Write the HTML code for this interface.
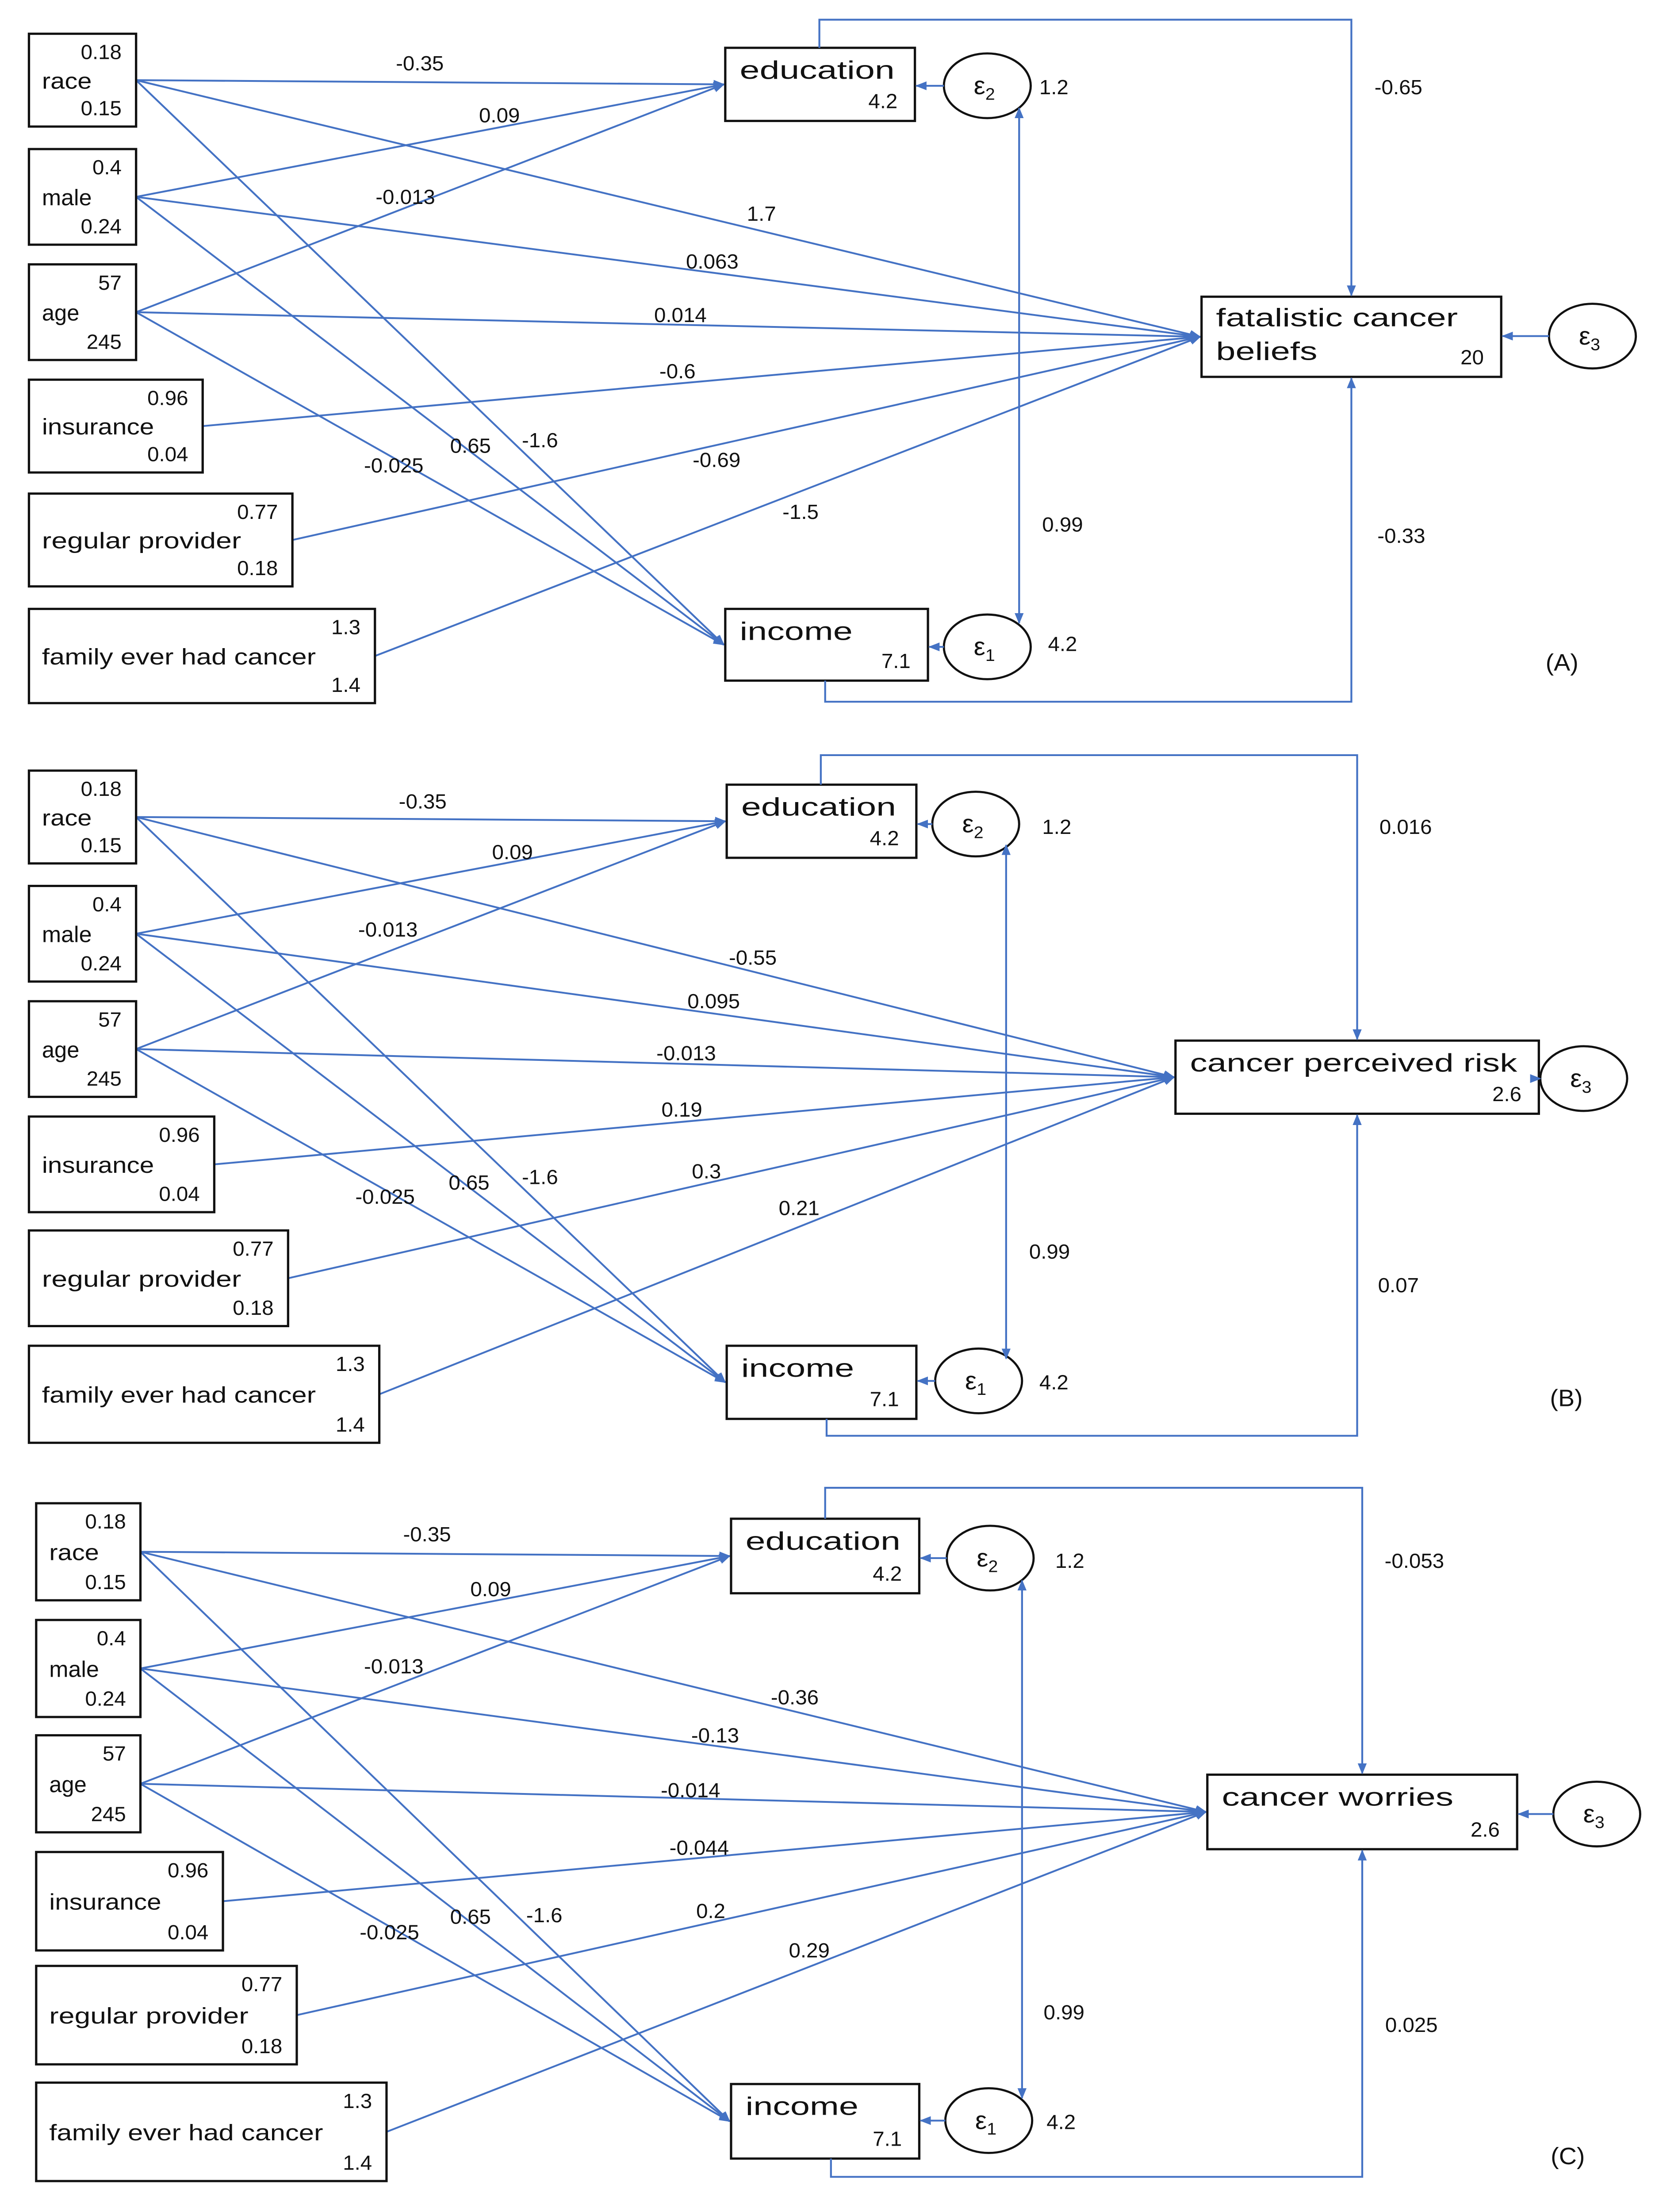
<!DOCTYPE html>
<html><head><meta charset="utf-8"><style>
html,body{margin:0;padding:0;background:#fff;width:100%;height:100%;overflow:hidden;}
svg{display:block;position:fixed;left:0;top:0;width:100vw;height:100vh;}
text{font-family:"Liberation Sans",sans-serif;fill:#111;}
</style></head><body>
<svg id="s" xmlns="http://www.w3.org/2000/svg" viewBox="0 0 1146 1573" preserveAspectRatio="none">
<defs><marker id="ar" viewBox="0 0 10 10" refX="9" refY="5" markerWidth="6" markerHeight="6" orient="auto-start-reverse"><path d="M0,1 L10,5 L0,9 z" fill="#4472C4"/></marker></defs>
<rect width="1146" height="1573" fill="#fff"/>
</svg>
<script>
const S=document.getElementById('s');const NS='http://www.w3.org/2000/svg';
function el(t,a,txt){const e=document.createElementNS(NS,t);for(const k in a)e.setAttribute(k,a[k]);if(txt!==undefined)e.textContent=txt;S.appendChild(e);return e;}
function line(x1,y1,x2,y2,arr,both){const a={x1,y1,x2,y2,stroke:'#4472C4','stroke-width':1.3};if(arr)a['marker-end']='url(#ar)';if(both)a['marker-start']='url(#ar)';el('line',a);}
function poly(pts){el('polyline',{points:pts,fill:'none',stroke:'#4472C4','stroke-width':1.3,'marker-end':'url(#ar)'});}
function t(x,y,s,size,anchor,len){const a={x,y,'font-size':size||14.5,'text-anchor':anchor||'middle'};if(len){a.textLength=len;a.lengthAdjust='spacingAndGlyphs';}el('text',a,s);}
function box(x1,y1,x2,y2){el('rect',{x:x1,y:y1,width:x2-x1,height:y2-y1,fill:'none',stroke:'#111','stroke-width':1.6});}
function circ(cx,cy,n){el('ellipse',{cx,cy,rx:30,ry:23,fill:'#fff',stroke:'#111','stroke-width':1.5});
 const tx=el('text',{x:cx-2,y:cy+6,'font-size':18,'text-anchor':'middle'},'ε');const ts=document.createElementNS(NS,'tspan');ts.setAttribute('font-size','12');ts.setAttribute('dy','4');ts.textContent=n;tx.appendChild(ts);}
function left(b,name,top,bot){box(b[0],b[1],b[2],b[3]);const h=b[3]-b[1];
 t(b[2]-10,b[1]+18,top,14.5,'end');t(b[0]+9,b[1]+h/2+6,name,16,'start',name.length*8.6);t(b[2]-10,b[3]-8,bot,14.5,'end');}
function panel(P){
 const L=P.left;const names=[['race','0.18','0.15'],['male','0.4','0.24'],['age','57','245'],['insurance','0.96','0.04'],['regular provider','0.77','0.18'],['family ever had cancer','1.3','1.4']];
 const src=L.map(b=>[b[2],(b[1]+b[3])/2]);
 const E=P.edu,I=P.inc,F=P.fat;
 const ep=[E[0],(E[1]+E[3])/2],ip=[I[0],(I[1]+I[3])/2],fp=[F[0],(F[1]+F[3])/2];
 for(let i=0;i<3;i++){line(src[i][0],src[i][1],ep[0]-1,ep[1],1);line(src[i][0],src[i][1],ip[0]-1,ip[1],1);}
 for(let i=0;i<6;i++)line(src[i][0],src[i][1],fp[0]-1,fp[1],1);
 L.forEach((b,i)=>left(b,names[i][0],names[i][1],names[i][2]));
 box(...E);box(...I);box(...F);
 t(E[0]+10,E[1]+22,'education',18,'start',107);t(E[2]-12,E[3]-9,'4.2',14.5,'end');
 t(I[0]+10,I[1]+22,'income',18,'start',78);t(I[2]-12,I[3]-9,'7.1',14.5,'end');
 if(P.fname2){t(F[0]+10,F[1]+21,P.fname,18,'start',P.flen);t(F[0]+10,F[1]+45,P.fname2,18,'start',70);}
 else t(F[0]+10,F[1]+22,P.fname,18,'start',P.flen);
 t(F[2]-12,F[3]-9,P.fv,14.5,'end');
 const fx=(F[0]+F[2])/2;
 poly(`${E[0]+65},${E[1]} ${E[0]+65},${P.top} ${fx},${P.top} ${fx},${F[1]-1}`);
 poly(`${I[0]+69},${I[3]} ${I[0]+69},${P.bot} ${fx},${P.bot} ${fx},${F[3]+1}`);
 circ(P.e2[0],P.e2[1],'2');circ(P.e1[0],P.e1[1],'1');circ(P.e3[0],P.e3[1],'3');
 line(P.e2[0]-30,P.e2[1],E[2]+1,P.e2[1],1);line(P.e1[0]-30,P.e1[1],I[2]+1,P.e1[1],1);line(P.e3[0]-30,P.e3[1],F[2]+1,P.e3[1],1);
 line(P.bx,P.by1,P.bx,P.by2,1,1);
 P.labels.forEach(l=>t(l[1],l[2]+5,l[0],14.5));
 t(P.tag[1],P.tag[2]+6,P.tag[0],17);
}
panel({left:[[20,24,94,90],[20,106,94,174],[20,188,94,256],[20,270,140,336],[20,351,202,417],[20,433,259,500]],
 edu:[501,34,632,86],inc:[501,433,641,484],fat:[830,211,1037,268],fname:'fatalistic cancer',fname2:'beliefs',flen:167,fv:'20',
 top:14,bot:499,e2:[682,61],e1:[682,460],e3:[1100,239],bx:704,by1:77,by2:443,
 labels:[['-0.35',290,45],['0.09',345,82],['-0.013',280,140],['1.7',526,152],['0.063',492,186],['0.014',470,224],['-0.6',468,264],['-0.025',272,331],['0.65',325,317],['-1.6',373,313],['-0.69',495,327],['-1.5',553,364],['0.99',734,373],['1.2',728,62],['4.2',734,458],['-0.65',966,62],['-0.33',968,381]],tag:['(A)',1079,471]});
panel({left:[[20,548,94,614],[20,630,94,698],[20,712,94,780],[20,794,148,862],[20,875,199,943],[20,957,262,1026]],
 edu:[502,558,633,610],inc:[502,957,633,1009],fat:[812,740,1063,792],fname:'cancer perceived risk',flen:226,fv:'2.6',
 top:537,bot:1021,e2:[674,586],e1:[676,982],e3:[1094,767],bx:695,by1:601,by2:966,
 labels:[['-0.35',292,570],['0.09',354,606],['-0.013',268,661],['-0.55',520,681],['0.095',493,712],['-0.013',474,749],['0.19',471,789],['0.3',488,833],['0.21',552,859],['-0.025',266,851],['0.65',324,841],['-1.6',373,837],['0.99',725,890],['1.2',730,588],['4.2',728,983],['0.016',971,588],['0.07',966,914]],tag:['(B)',1082,994]});
panel({left:[[25,1069,97,1138],[25,1152,97,1221],[25,1234,97,1303],[25,1317,154,1387],[25,1398,205,1468],[25,1481,267,1551]],
 edu:[505,1080,635,1133],inc:[505,1482,635,1535],fat:[834,1262,1048,1315],fname:'cancer worries',flen:160,fv:'2.6',
 top:1058,bot:1548,e2:[684,1108],e1:[683,1508],e3:[1103,1290],bx:706,by1:1124,by2:1492,
 labels:[['-0.35',295,1091],['0.09',339,1130],['-0.013',272,1185],['-0.36',549,1207],['-0.13',494,1234],['-0.014',477,1273],['-0.044',483,1314],['0.2',491,1359],['0.29',559,1387],['-0.025',269,1374],['0.65',325,1363],['-1.6',376,1362],['0.99',735,1431],['1.2',739,1110],['4.2',733,1509],['-0.053',977,1110],['0.025',975,1440]],tag:['(C)',1083,1533]});
</script>
</body></html>
